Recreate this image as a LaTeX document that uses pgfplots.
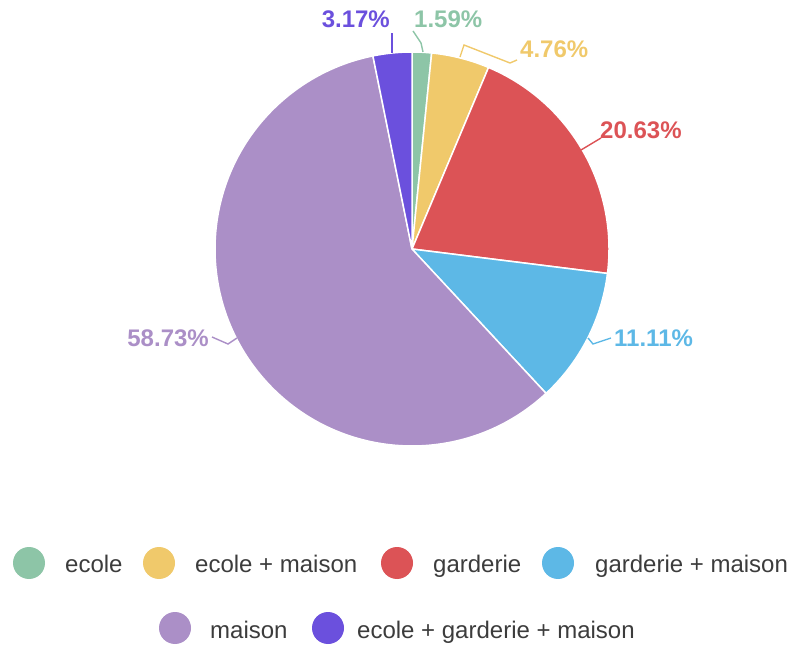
\documentclass[border=0pt]{standalone}
\usepackage{pgfplots}
\pgfplotsset{compat=1.18}
\usepackage{fontspec}
\setmainfont{Liberation Sans}
\definecolor{cEcole}{HTML}{8DC5A7}
\definecolor{cEcoleMaison}{HTML}{F0C96B}
\definecolor{cGarderie}{HTML}{DC5356}
\definecolor{cGarderieMaison}{HTML}{5DB8E6}
\definecolor{cMaison}{HTML}{AB8FC7}
\definecolor{cEGM}{HTML}{6B50DD}
\definecolor{legtext}{HTML}{3C3C3C}
% percentages of the six categories
\def\pA{1.59}\def\pB{4.76}\def\pC{20.63}\def\pD{11.11}\def\pE{58.73}\def\pF{3.17}
\begin{document}
\begin{tikzpicture}
\begin{axis}[scale only axis, width=797pt, height=645pt,
  xmin=0, xmax=797, ymin=0, ymax=645, hide axis, clip=false]
\path (axis cs:0,0) rectangle (axis cs:797,645);
% wedges (clockwise from 12 o'clock)
\fill[cEcole, draw=white, line width=1.5pt] (axis cs:412,396) -- ++(90:197pt)
  arc[start angle=90, end angle={90-3.6*\pA}, radius=197pt] -- cycle;
\fill[cEcoleMaison, draw=white, line width=1.5pt] (axis cs:412,396) -- ++({90-3.6*\pA}:197pt)
  arc[start angle={90-3.6*\pA}, end angle={90-3.6*(\pA+\pB)}, radius=197pt] -- cycle;
\fill[cGarderie, draw=white, line width=1.5pt] (axis cs:412,396) -- ++({90-3.6*(\pA+\pB)}:197pt)
  arc[start angle={90-3.6*(\pA+\pB)}, end angle={90-3.6*(\pA+\pB+\pC)}, radius=197pt] -- cycle;
\fill[cGarderieMaison, draw=white, line width=1.5pt] (axis cs:412,396) -- ++({90-3.6*(\pA+\pB+\pC)}:197pt)
  arc[start angle={90-3.6*(\pA+\pB+\pC)}, end angle={90-3.6*(\pA+\pB+\pC+\pD)}, radius=197pt] -- cycle;
\fill[cMaison, draw=white, line width=1.5pt] (axis cs:412,396) -- ++({90-3.6*(\pA+\pB+\pC+\pD)}:197pt)
  arc[start angle={90-3.6*(\pA+\pB+\pC+\pD)}, end angle={90-3.6*(\pA+\pB+\pC+\pD+\pE)}, radius=197pt] -- cycle;
\fill[cEGM, draw=white, line width=1.5pt] (axis cs:412,396) -- ++({90-3.6*(\pA+\pB+\pC+\pD+\pE)}:197pt)
  arc[start angle={90-3.6*(\pA+\pB+\pC+\pD+\pE)}, end angle=-270, radius=197pt] -- cycle;
% leader lines
\draw[cEGM, line width=1.4pt] (axis cs:392,592) -- (axis cs:392,612);
\draw[cEcole, line width=1.4pt] (axis cs:423,593) -- (axis cs:421,602) -- (axis cs:413,614);
\draw[cEcoleMaison, line width=1.4pt] (axis cs:460,588) -- (axis cs:464,600) -- (axis cs:510,582) -- (axis cs:517,585);
\draw[cGarderie, line width=1.4pt] (axis cs:581,495) -- (axis cs:601,507);
\draw[cGarderieMaison, line width=1.4pt] (axis cs:588,307) -- (axis cs:593,301) -- (axis cs:611,307);
\draw[cMaison, line width=1.4pt] (axis cs:237,307) -- (axis cs:228,301) -- (axis cs:212,308);
% labels
\begin{scope}[every node/.style={inner sep=0pt, font=\fontsize{24}{28}\selectfont\bfseries}]
\node[cEGM, anchor=base east] at (axis cs:390,617) {3.17\%};
\node[cEcole, anchor=base west] at (axis cs:414,617) {1.59\%};
\node[cEcoleMaison, anchor=base west] at (axis cs:520,587) {4.76\%};
\node[cGarderie, anchor=base west] at (axis cs:600,506) {20.63\%};
\node[cGarderieMaison, anchor=base west] at (axis cs:614,298) {11.11\%};
\node[cMaison, anchor=base east] at (axis cs:209,298) {58.73\%};
\end{scope}
% legend
\fill[cEcole] (axis cs:29,82) circle[radius=16pt];
\fill[cEcoleMaison] (axis cs:159,82) circle[radius=16pt];
\fill[cGarderie] (axis cs:397,82) circle[radius=16pt];
\fill[cGarderieMaison] (axis cs:558,82) circle[radius=16pt];
\fill[cMaison] (axis cs:175,17) circle[radius=16pt];
\fill[cEGM] (axis cs:328,17) circle[radius=16pt];
\begin{scope}[every node/.style={inner sep=0pt, anchor=base west, text=legtext, font=\fontsize{24}{28}\selectfont}]
\node at (axis cs:65,73) {ecole};
\node at (axis cs:195,73) {ecole + maison};
\node at (axis cs:433,73) {garderie};
\node at (axis cs:595,73) {garderie + maison};
\node at (axis cs:210,7) {maison};
\node at (axis cs:357,7) {ecole + garderie + maison};
\end{scope}
\end{axis}
\end{tikzpicture}
\end{document}
